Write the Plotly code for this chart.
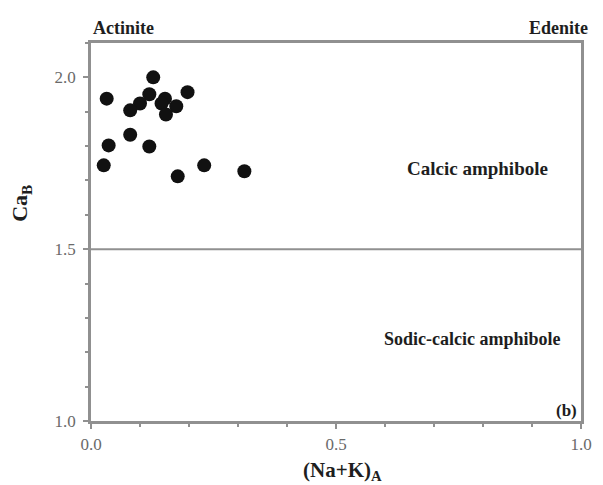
import plotly.graph_objects as go

na_k = [0.127, 0.032, 0.119, 0.100, 0.080, 0.151, 0.144, 0.174, 0.153, 0.197,
        0.080, 0.036, 0.119, 0.026, 0.231, 0.177, 0.313]
ca_b = [2.000, 1.938, 1.951, 1.924, 1.904, 1.938, 1.924, 1.916, 1.892, 1.957,
        1.833, 1.802, 1.799, 1.744, 1.744, 1.712, 1.727]

x_ticks = [0.0, 0.5, 1.0]
x_labels = ["0.0", "0.5", "1.0"]
y_ticks = [1.0, 1.5, 2.0]
y_labels = ["1.0", "1.5", "2.0"]

FONT = "Liberation Serif"
AX = "#909090"
TXT = "#1e1e1e"

fig = go.Figure()
fig.add_trace(go.Scatter(x=na_k, y=ca_b, mode="markers",
                         marker=dict(size=14, color="#111111"),
                         showlegend=False, hoverinfo="skip"))

fig.add_shape(type="line", xref="x", yref="y", x0=0, x1=1, y0=1.5, y1=1.5,
              line=dict(color=AX, width=2))

ann = [
    dict(x=0, y=1.0, xref="x domain", yref="y domain", yshift=3, xshift=0,
         text="<b>Actinite</b>", xanchor="left", yanchor="bottom", size=18),
    dict(x=1, y=1.0, xref="x domain", yref="y domain", yshift=3, xshift=9,
         text="<b>Edenite</b>", xanchor="right", yanchor="bottom", size=18),
    dict(x=0.789, y=1.734, xref="x", yref="y", text="<b>Calcic amphibole</b>",
         xanchor="center", yanchor="middle", size=19),
    dict(x=0.779, y=1.24, xref="x", yref="y", text="<b>Sodic-calcic amphibole</b>",
         xanchor="center", yanchor="middle", size=18),
    dict(x=1, y=1.03, xref="x domain", yref="y", xshift=-2, text="<b>(b)</b>",
         xanchor="right", yanchor="middle", size=17),
    # axis titles
    dict(x=0.514, y=0, xref="x", yref="y domain", yshift=-50,
         text="<b>(Na+K)<sub>A</sub></b>", xanchor="center", yanchor="middle", size=21),
    dict(x=0, y=1.632, xref="x domain", yref="y", xshift=-70, textangle=-90,
         text="<b>Ca<sub>B</sub></b>", xanchor="center", yanchor="middle", size=22),
]
for a in ann:
    size = a.pop("size")
    fig.add_annotation(showarrow=False,
                       font=dict(family=FONT, size=size, color=TXT), **a)

axis_common = dict(showline=True, linecolor=AX, linewidth=2.5, mirror=True,
                   showgrid=False, zeroline=False, ticks="outside",
                   ticklen=5, tickwidth=1.5, tickcolor=AX,
                   ticklabeloverflow="allow",
                   tickfont=dict(family=FONT, size=17, color="#6a6a6a"),
                   minor=dict(dtick=0.1, ticks="outside", ticklen=3,
                              tickcolor=AX, tickwidth=1.5))

fig.update_xaxes(range=[0, 1.0], tickvals=x_ticks, ticktext=x_labels,
                 ticklabelstandoff=1, **axis_common)
fig.update_yaxes(range=[1.0, 2.1], tickvals=y_ticks, ticktext=y_labels,
                 ticklabelstandoff=4, **axis_common)

fig.update_layout(width=603, height=485, plot_bgcolor="white", paper_bgcolor="white",
                  margin=dict(l=91, r=11, t=43, b=64))
# drop the default page margin and scrollbars so the figure fills the window
fig.write_html(
    "out.html",
    config={"displayModeBar": False},
    post_script=("document.documentElement.style.overflow='hidden';"
                 "document.body.style.margin='0px';"
                 "document.body.style.overflow='hidden';"),
)
